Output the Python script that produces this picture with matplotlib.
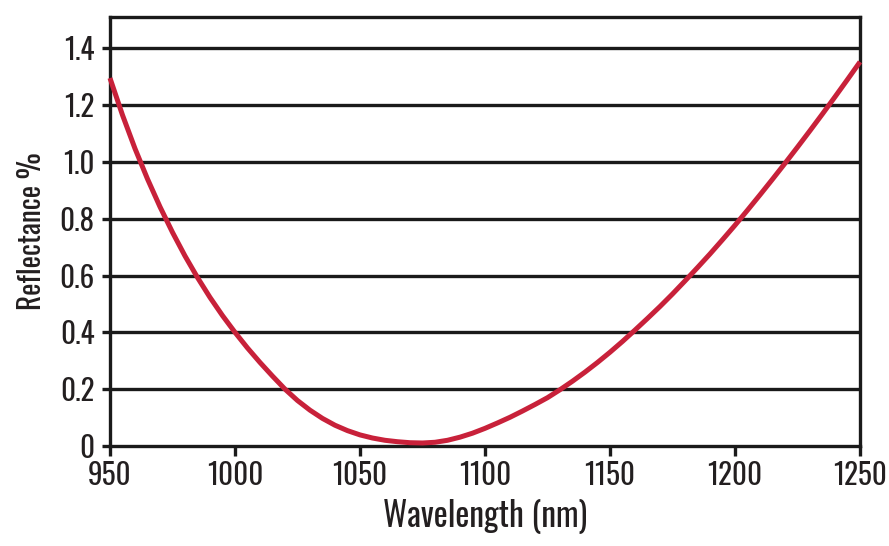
#! /usr/bin/env python3
# Reflectance curve of an AR coating, 950-1250 nm

import matplotlib
matplotlib.use('Agg')
import matplotlib.pyplot as plt

# values (every 5 nm)
wavelength = list(range(950, 1255, 5))
reflectance = [1.295, 1.165, 1.047, 0.940, 0.842, 0.752, 0.669, 0.593, 0.523, 0.459,
               0.400, 0.345, 0.294, 0.246, 0.200, 0.160, 0.126, 0.097, 0.073, 0.054,
               0.039, 0.028, 0.020, 0.015, 0.0115, 0.0105, 0.013, 0.020, 0.031, 0.045,
               0.062, 0.081, 0.101, 0.123, 0.146, 0.170, 0.198, 0.228, 0.260, 0.294,
               0.330, 0.368, 0.408, 0.449, 0.491, 0.535, 0.581, 0.628, 0.676, 0.726,
               0.777, 0.830, 0.884, 0.939, 0.995, 1.052, 1.110, 1.169, 1.229, 1.290,
               1.352]

x_ticks = [950, 1000, 1050, 1100, 1150, 1200, 1250]
y_ticks = [0, 0.2, 0.4, 0.6, 0.8, 1.0, 1.2, 1.4]
y_labels = ['0', '0.2', '0.4', '0.6', '0.8', '1.0', '1.2', '1.4']

FONT = ['Oswald', 'Barlow Condensed', 'Roboto Condensed', 'DejaVu Sans']
TXT = '#231f20'
INK = '#1a1a1a'

fig = plt.figure(figsize=(8.89, 5.46), dpi=100)
ax = fig.add_axes([0.1237, 0.1832, 0.8437, 0.7857])

for y in y_ticks[1:]:
    ax.axhline(y, color=INK, lw=2.4, zorder=1)

ax.plot(wavelength, reflectance, color='#c8213a', lw=3.6,
        solid_capstyle='butt', zorder=3, clip_on=False)

ax.set_xlim(950, 1250)
ax.set_ylim(0, 1.51)
ax.set_xticks(x_ticks)
ax.set_yticks(y_ticks)
ax.set_yticklabels(y_labels)

for s in ax.spines.values():
    s.set_color(INK)
    s.set_linewidth(2.4)

ax.tick_params(axis='x', direction='out', length=7, width=2.4, color=INK,
               pad=4, labelsize=21, labelcolor=TXT)
ax.tick_params(axis='y', direction='out', length=6, width=2.4, color=INK,
               pad=5, labelsize=21, labelcolor=TXT)
for lab in ax.get_xticklabels() + ax.get_yticklabels():
    lab.set_family(FONT)
    lab.set_fontweight(300)

ax.set_xlabel('Wavelength (nm)', family=FONT, fontweight=300, fontsize=24,
              color=TXT, labelpad=6)
ax.set_ylabel('Reflectance %', family=FONT, fontweight=300, fontsize=21,
              color=TXT, labelpad=10)

fig.savefig('out.png', dpi=100)
